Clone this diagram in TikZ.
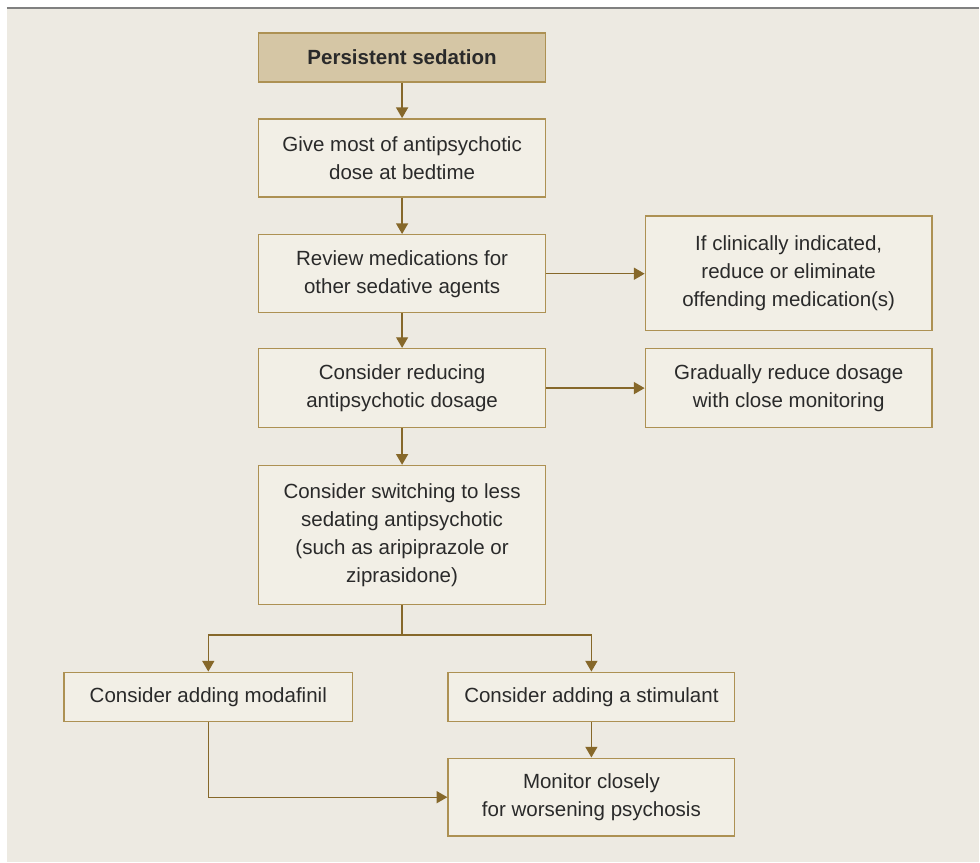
\documentclass[tikz,border=0pt]{standalone}
\usepackage{fontspec}
\setmainfont{Liberation Sans}
\usetikzlibrary{arrows.meta}

\definecolor{pagebg}{HTML}{EDEAE2}
\definecolor{boxbg}{HTML}{F2EFE6}
\definecolor{boxline}{HTML}{AD9153}
\definecolor{headbg}{HTML}{D5C6A5}
\definecolor{flowline}{HTML}{86682A}
\definecolor{txt}{HTML}{2A2A2A}

\begin{document}
\begin{tikzpicture}[x=0.75pt,y=-0.75pt,
    box/.style={draw=boxline, line width=1.1pt, fill=boxbg, text=txt,
        align=center, minimum width=287*0.75pt, inner sep=2pt,
        font=\fontsize{15.4}{21}\selectfont},
    headbox/.style={box, fill=headbg, font=\fontsize{15.4}{21}\selectfont\bfseries},
    flow/.style={draw=flowline, line width=1pt,
        -{Triangle[width=9pt,length=8pt,fill=flowline]}}]
    % fond et filet du haut
    \fill[white] (0,0) rectangle (980,863);
    \fill[pagebg] (7,9) rectangle (980,863);
    \draw[gray, line width=1.5pt] (7,8) -- (980,8);

    % colonne centrale
    \node[headbox, minimum height=49*0.75pt] (sed) at (402.5,57.5) {Persistent sedation};
    \node[box, minimum height=78*0.75pt] (bed) at (402.5,158) {Give most of antipsychotic\\dose at bedtime};
    \node[box, minimum height=78*0.75pt] (rev) at (402.5,274) {Review medications for\\other sedative agents};
    \node[box, minimum height=79*0.75pt] (red) at (402.5,388.5) {Consider reducing\\antipsychotic dosage};
    \node[box, minimum height=139*0.75pt] (swi) at (402.5,535.5) {Consider switching to less\\sedating antipsychotic\\(such as aripiprazole or\\ziprasidone)};

    % colonne de droite
    \node[box, minimum height=115*0.75pt] (cli) at (789.5,273.5) {If clinically indicated,\\reduce or eliminate\\offending medication(s)};
    \node[box, minimum height=79*0.75pt] (grad) at (789.5,388.5) {Gradually reduce dosage\\with close monitoring};

    % bas
    \node[box, minimum width=289*0.75pt, minimum height=49*0.75pt] (mod) at (208.5,697.5) {Consider adding modafinil};
    \node[box, minimum height=49*0.75pt] (sti) at (592,697.5) {Consider adding a stimulant};
    \node[box, minimum height=78*0.75pt] (mon) at (592,798) {Monitor closely\\for worsening psychosis};

    % fleches
    \draw[flow] (sed) -- (bed);
    \draw[flow] (bed) -- (rev);
    \draw[flow] (rev) -- (red);
    \draw[flow] (red) -- (swi);
    \draw[flow] (rev) -- (cli.west |- rev);
    \draw[flow] (red) -- (grad);
    \draw[draw=flowline, line width=1pt] (swi.south) -- ++(0,30) coordinate (split);
    \draw[flow] (split) -| (mod.north);
    \draw[flow] (split) -| (sti.north);
    \draw[flow] (sti) -- (mon);
    \draw[flow] (mod.south) |- (mon.west);
\end{tikzpicture}
\end{document}
